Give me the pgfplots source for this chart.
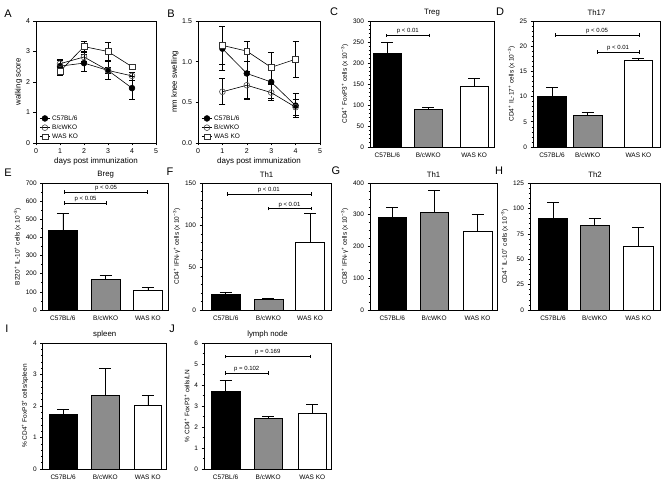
\documentclass[border=0pt]{standalone}
\usepackage{fontspec}
\setmainfont{Liberation Sans}
\usepackage{pgfplots}
\pgfplotsset{compat=1.18}
\usetikzlibrary{arrows.meta}

\definecolor{barg}{RGB}{140,140,140}
\newcommand{\fs}[1]{\fontsize{#1}{#1}\selectfont}
\newcommand{\sig}[4]{\draw[line width=0.5pt,{Bar[width=3.5pt]}-{Bar[width=3.5pt]}]
  (axis cs:#1,#3) -- (axis cs:#2,#3) node[midway,above,inner sep=1.2pt,font=\fs{6}]{#4};}

\pgfplotsset{
  base/.style={
    scale only axis, anchor=north west, clip=false,
    axis line style={line width=0.6pt},
    tick style={line width=0.6pt, black},
    tick align=outside, xtick pos=left, ytick pos=left,
    major tick length=2.5pt, minor tick length=1.5pt,
    /pgf/number format/assume math mode=true,
    tick label style={font=\fs{6.5}},
    ylabel style={font=\fs{6.5}, yshift=-2pt},
    title style={font=\fs{7.8}, yshift=-4.5pt},
    ymin=0,
  },
  linepanel/.style={base,
    xmin=0, xmax=5, xtick={0,...,5},
    tick label style={font=\fs{7}},
    xlabel={days post immunization},
    xlabel style={font=\fs{8}, yshift=3pt},
    ylabel style={font=\fs{7.8}, yshift=-1pt},
    legend style={at={(0.02,0.0)}, anchor=south west, draw=none, fill=none,
      font=\fs{6.5}, row sep=-1pt, inner sep=1pt},
    legend cell align=left,
    legend image code/.code={\draw[mark repeat=2, mark phase=2]
      plot coordinates {(0pt,0pt) (5pt,0pt) (10pt,0pt)};},
  },
  barpanel/.style={base,
    xmin=0, xmax=1, xtick={#1},
    xticklabels={C57BL/6,B/cWKO,WAS KO},
    x tick style={draw=none},
    bar width=0.225,
  },
  bb/.style={ybar, bar shift=0pt, draw=black, line width=0.7pt, fill=#1,
    error bars/y dir=plus, error bars/y explicit, error bars/error mark=|,
    error bars/error bar style={line width=0.7pt, black},
    error bars/error mark options={black, line width=0.7pt, mark size=6pt}},
  ln/.style={black, line width=0.6pt, mark size=2.9pt,
    error bars/y dir=both, error bars/y explicit, error bars/error mark=|,
    error bars/error bar style={line width=0.6pt, black},
    error bars/error mark options={black, line width=0.6pt, mark size=3pt}},
}

\begin{document}
\begin{tikzpicture}
\useasboundingbox (0,0) rectangle (666pt,-484pt);

% panel letters
\foreach \l/\x/\y in {A/8/14, B/171/14, C/334/12, D/500/12, E/8/173, F/170/172,
                       G/336/171, H/499/171, I/7/329, J/172/329}
  \node[font=\fs{11}] at (\x pt,-\y pt) {\l};

% A
\begin{axis}[linepanel, at={(36pt,-21pt)}, width=120pt, height=122pt,
  ymax=4, ytick={0,...,4}, ylabel={walking score}]
\addplot[ln, mark=*, mark options={fill=black}] coordinates {
  (1,2.52) +- (0,0.22) (2,2.62) +- (0,0.28) (3,2.38) +- (0,0.30) (4,1.80) +- (0,0.38)};
\addplot[ln, mark=o, mark options={draw=gray!60!black, fill=gray!25}] coordinates {
  (1,2.60) +- (0,0.10) (2,2.82) +- (0,0.14) (3,2.38) +- (0,0.10) (4,2.20) +- (0,0.13)};
\addplot[ln, mark=square*, mark options={draw=gray!40!black, fill=white}] coordinates {
  (1,2.35) +- (0,0.12) (2,3.16) +- (0,0.16) (3,3.00) +- (0,0.30) (4,2.50) +- (0,0.05)};
\legend{C57BL/6, B/cWKO, WAS KO}
\end{axis}

% B
\begin{axis}[linepanel, at={(198pt,-21pt)}, width=122pt, height=122pt,
  ymax=1.5, ytick={0,0.5,1,1.5}, ylabel={mm knee swelling},
  yticklabel style={/pgf/number format/.cd, fixed, fixed zerofill, precision=1}]
\addplot[ln, mark=*, mark options={fill=black}] coordinates {
  (1,1.16) +- (0,0.27) (2,0.855) +- (0,0.30) (3,0.75) +- (0,0.20) (4,0.46) +- (0,0.15)};
\addplot[ln, mark=o, mark options={draw=gray!60!black, fill=gray!25}] coordinates {
  (1,0.63) +- (0,0.16) (2,0.71) +- (0,0.17) (3,0.62) +- (0,0.10) (4,0.44) +- (0,0.10)};
\addplot[ln, mark=square*, mark options={draw=gray!40!black, fill=white}] coordinates {
  (1,1.20) +- (0,0.23) (2,1.13) +- (0,0.12) (3,0.93) +- (0,0.19) (4,1.03) +- (0,0.22)};
\legend{C57BL/6, B/cWKO, WAS KO}
\end{axis}

% C
\begin{axis}[barpanel={0.14,0.47,0.84}, at={(370pt,-21pt)}, width=124pt, height=126pt,
  ymax=300, ytick={0,50,...,300}, minor y tick num=4, title={Treg},
  ylabel={CD4\textsuperscript{+} FoxP3\textsuperscript{+} cells (x 10\textsuperscript{−3})}]
\addplot[bb=black] coordinates {(0.14,222) +- (0,28)};
\addplot[bb=barg] coordinates {(0.47,89) +- (0,5)};
\addplot[bb=white] coordinates {(0.84,144) +- (0,19)};
\sig{0.13}{0.48}{266}{p < 0.01}
\end{axis}

% D
\begin{axis}[barpanel={0.15,0.43,0.83}, at={(533pt,-21pt)}, width=127pt, height=126pt,
  ymax=25, ytick={0,5,...,25}, minor y tick num=4, title={Th17},
  ylabel={CD4\textsuperscript{+} IL-17\textsuperscript{+} cells (x 10\textsuperscript{−3})}]
\addplot[bb=black] coordinates {(0.15,10.0) +- (0,1.8)};
\addplot[bb=barg] coordinates {(0.43,6.2) +- (0,0.6)};
\addplot[bb=white] coordinates {(0.83,17.1) +- (0,0.5)};
\sig{0.17}{0.84}{22.2}{p < 0.05}
\sig{0.50}{0.84}{18.8}{p < 0.01}
\end{axis}

% E
\begin{axis}[barpanel={0.16,0.50,0.835}, at={(42.7pt,-183pt)}, width=126pt, height=127pt,
  ymax=700, ytick={0,100,...,700}, minor y tick num=1, title={Breg},
  ylabel={B220\textsuperscript{+} IL-10\textsuperscript{+} cells (x 10\textsuperscript{−3})}]
\addplot[bb=black] coordinates {(0.16,440) +- (0,90)};
\addplot[bb=barg] coordinates {(0.50,168) +- (0,25)};
\addplot[bb=white] coordinates {(0.835,106) +- (0,21)};
\sig{0.17}{0.835}{650}{p < 0.05}
\sig{0.17}{0.51}{590}{p < 0.05}
\end{axis}

% F
\begin{axis}[barpanel={0.184,0.515,0.838}, at={(202pt,-183pt)}, width=129pt, height=127pt,
  ymax=150, ytick={0,50,...,150}, minor y tick num=4, title={Th1},
  ylabel={CD4\textsuperscript{+} IFN-γ\textsuperscript{+} cells (x 10\textsuperscript{−3})}]
\addplot[bb=black] coordinates {(0.184,18.7) +- (0,2.7)};
\addplot[bb=barg] coordinates {(0.515,12.5) +- (0,1.3)};
\addplot[bb=white] coordinates {(0.838,80) +- (0,34)};
\sig{0.19}{0.846}{137}{p < 0.01}
\sig{0.51}{0.846}{119.6}{p < 0.01}
\end{axis}

% G
\begin{axis}[barpanel={0.176,0.505,0.847}, at={(370pt,-183pt)}, width=127pt, height=127pt,
  ymax=400, ytick={0,100,...,400}, minor y tick num=3, title={Th1},
  ylabel={CD8\textsuperscript{+} IFN-γ\textsuperscript{+} cells (x 10\textsuperscript{−3})}]
\addplot[bb=black] coordinates {(0.176,291) +- (0,33)};
\addplot[bb=barg] coordinates {(0.505,308) +- (0,68)};
\addplot[bb=white] coordinates {(0.847,247) +- (0,53)};
\end{axis}

% H
\begin{axis}[barpanel={0.177,0.497,0.833}, at={(530pt,-183pt)}, width=130pt, height=127pt,
  ymax=125, ytick={0,25,...,125}, minor y tick num=4, title={Th2},
  ylabel={CD4\textsuperscript{+} IL-10\textsuperscript{+} cells (x 10\textsuperscript{−3})}]
\addplot[bb=black] coordinates {(0.177,90) +- (0,15.5)};
\addplot[bb=barg] coordinates {(0.497,83) +- (0,7.3)};
\addplot[bb=white] coordinates {(0.833,62.5) +- (0,18.5)};
\end{axis}

% I
\begin{axis}[barpanel={0.165,0.505,0.848}, at={(42.7pt,-343pt)}, width=124pt, height=126pt,
  ymax=4, ytick={0,...,4}, minor y tick num=4, title={spleen},
  ylabel={\% CD4\textsuperscript{+} FoxP3\textsuperscript{+} cells/spleen}]
\addplot[bb=black] coordinates {(0.165,1.72) +- (0,0.18)};
\addplot[bb=barg] coordinates {(0.505,2.35) +- (0,0.85)};
\addplot[bb=white] coordinates {(0.848,2.03) +- (0,0.30)};
\end{axis}

% J
\begin{axis}[barpanel={0.17,0.505,0.853}, at={(204pt,-343pt)}, width=127pt, height=126pt,
  ymax=6, ytick={0,...,6}, minor y tick num=1, title={lymph node},
  ylabel={\% CD4\textsuperscript{+} FoxP3\textsuperscript{+} cells/LN}]
\addplot[bb=black] coordinates {(0.17,3.72) +- (0,0.50)};
\addplot[bb=barg] coordinates {(0.505,2.40) +- (0,0.10)};
\addplot[bb=white] coordinates {(0.853,2.66) +- (0,0.42)};
\sig{0.163}{0.842}{5.35}{p = 0.169}
\sig{0.163}{0.51}{4.57}{p = 0.102}
\end{axis}
\end{tikzpicture}
\end{document}
